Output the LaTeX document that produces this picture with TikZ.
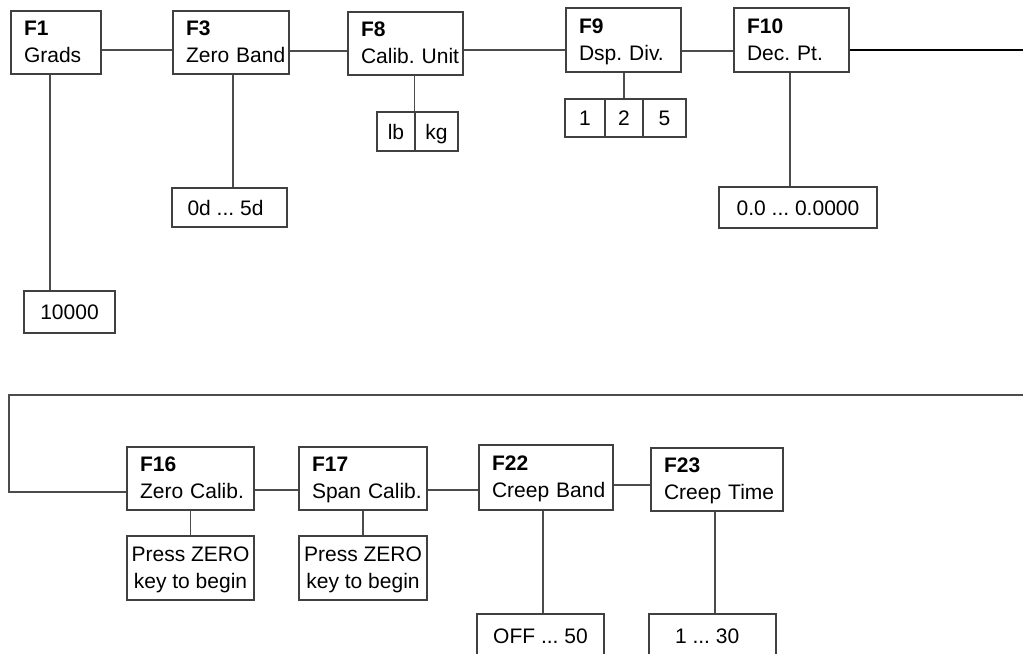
\documentclass[tikz,border=0pt]{standalone}
\usepackage{fontspec}
\setmainfont{Liberation Sans}
\frenchspacing
\newcommand\flab[2]{\textbf{#1}\\\raisebox{0pt}[\height][0.8pt]{\mbox{#2}}}
\newcommand\nodep[1]{\raisebox{0pt}[\height][0pt]{#1}}
\begin{document}
\begin{tikzpicture}[x=0.75pt,y=-0.75pt,
  every node/.style={font=\fontsize{15.75}{20.25}\selectfont\frenchspacing},
  fbox/.style={draw=black!75, line width=0.8pt, align=left, inner xsep=9.75pt, inner ysep=0pt, minimum height=47.25pt},
  sbox/.style={draw=black!75, line width=0.8pt, inner sep=0pt, align=center},
  one/.style={text height=11.3pt, text depth=0pt},
  conn/.style={draw=black!70, line width=0.8pt},
  thick conn/.style={draw=black, line width=1.5pt}]
\path[use as bounding box] (0,0) rectangle (1023,653);
\clip (0,0) rectangle (1023,653);
% top row
\node[fbox, text width=48pt] (f1) at (56,42.5) {\flab{F1}{Grads}};
\node[fbox, text width=67.5pt] (f3) at (231,42.5) {\flab{F3}{Zero Band}};
\node[fbox, text width=66.75pt] (f8) at (405.5,43.5) {\flab{F8}{Calib. Unit}};
\node[fbox, text width=66.75pt, minimum height=48pt] (f9) at (623.5,40) {\flab{F9}{Dsp. Div.}};
\node[fbox, text width=66.75pt, minimum height=48pt] (f10) at (791.5,40) {\flab{F10}{Dec. Pt.}};
% option boxes top
\node[sbox, one, minimum width=68.25pt, minimum height=31.5pt] (v10000) at (69.5,312) {10000};
\node[sbox, one, minimum width=86.25pt, minimum height=29.25pt] (vzb) at (229.5,207.5) {\hspace*{-6pt}0d ... 5d};
\node[sbox, one, minimum width=28.5pt, minimum height=29.25pt] (vlb) at (396,131.5) {lb};
\node[sbox, one, minimum width=32.25pt, minimum height=29.25pt] (vkg) at (436.5,131.5) {kg};
\node[sbox, one, minimum width=30pt, minimum height=28.5pt] (v1) at (585,118) {1};
\node[sbox, one, minimum width=28.5pt, minimum height=28.5pt] (v2) at (624,118) {2};
\node[sbox, one, minimum width=32.25pt, minimum height=28.5pt] (v5) at (664.5,118) {5};
\node[sbox, one, minimum width=118.5pt, minimum height=30.75pt] (vdp) at (798,207.5) {0.0 ... 0.0000};
% bottom row
\node[fbox, text width=75.75pt] (f16) at (190.5,478.5) {\flab{F16}{Zero Calib.}};
\node[fbox, text width=76.5pt] (f17) at (363,478.5) {\flab{F17}{Span Calib.}};
\node[fbox, text width=81pt, minimum height=48.75pt] (f22) at (546,477.5) {\flab{F22}{Creep Band}};
\node[fbox, text width=79.5pt] (f23) at (717,479.5) {\flab{F23}{Creep Time}};
\node[sbox, minimum width=95.25pt, minimum height=48pt] (vz16) at (190.5,568) {Press ZERO\\\nodep{key to begin}};
\node[sbox, minimum width=96pt, minimum height=48pt] (vz17) at (363,568) {Press ZERO\\\nodep{key to begin}};
\node[sbox, one, minimum width=95.25pt, minimum height=33pt] (voff) at (540.5,636) {OFF ... 50};
\node[sbox, one, minimum width=95.25pt, minimum height=33pt] (v30) at (712.5,636) {\hspace*{-8pt}1 ... 30};
% coordinates
\coordinate (rtop) at (1023,50);
\coordinate (rbot) at (1023,395);
\coordinate (lbot) at (9,395);
% connectors top
\path[conn] (f1.east |- 0,50) -- (f3.west |- 0,50);
\path[conn] (f3.east |- 0,51) -- (f8.west |- 0,51);
\path[conn] (f8.east |- 0,50) -- (f9.west |- 0,50);
\path[conn] (f9.east |- 0,51) -- (f10.west |- 0,51);
\path[thick conn] (f10.east |- rtop) -- (rtop);
\path[conn] (f1.south -| 50,0) -- (v10000.north -| 50,0);
\path[conn] (f3.south -| 233,0) -- (vzb.north -| 233,0);
\path[conn] (f8.south -| vkg.west) -- (vkg.north west);
\path[conn] (f9.south -| v2.north) -- (v2.north);
\path[conn] (f10.south -| 790,0) -- (vdp.north -| 790,0);
% connectors bottom
\path[conn] (rbot) -- (lbot) |- (f16.west |- 0,492);
\path[conn] (f16.east |- 0,490) -- (f17.west |- 0,490);
\path[conn] (f17.east |- 0,490) -- (f22.west |- 0,490);
\path[conn] (f22.east |- 0,485) -- (f23.west |- 0,485);
\path[conn] (f16.south) -- (vz16.north);
\path[conn] (f17.south) -- (vz17.north);
\path[conn] (f22.south -| 543,0) -- (voff.north -| 543,0);
\path[conn] (f23.south -| 715,0) -- (v30.north -| 715,0);
\end{tikzpicture}
\end{document}
